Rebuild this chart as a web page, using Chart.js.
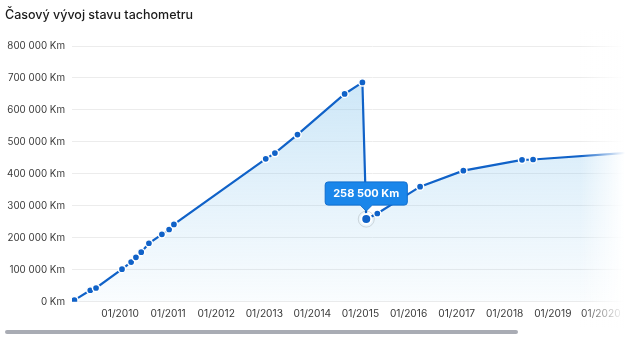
<!DOCTYPE html>
<html lang="cs">
<head>
<meta charset="utf-8">
<title>Časový vývoj stavu tachometru</title>
<script src="https://cdn.jsdelivr.net/npm/chart.js@4.4.1/dist/chart.umd.min.js"></script>
<style>
  html, body { margin: 0; padding: 0; background: #fff; }
  body { width: 630px; height: 339px; overflow: hidden; position: relative; font-family: Inter, "Noto Sans", sans-serif; }
  .scroller { position: absolute; left: 0; top: 0; width: 630px; height: 328px; overflow: hidden; }
  .wrap { position: absolute; left: 0; top: 0; width: 690px; height: 326px; }
  .fade { position: absolute; left: 580px; top: 30px; width: 50px; height: 298px;
          background: linear-gradient(to right, rgba(255,255,255,0), #fff 90%); pointer-events: none; }
  .bar { position: absolute; left: 5px; top: 330px; width: 513px; height: 4px; border-radius: 2px; background: #a9acb4; }
</style>
</head>
<body>
<div class="scroller">
  <div class="wrap"><canvas id="chart"></canvas></div>
  <div class="fade"></div>
</div>
<div class="bar"></div>
<script>
// odečty tachometru (rok jako desetinné číslo, km)
const dates = [2009.05, 2009.38, 2009.50, 2010.04, 2010.23, 2010.33, 2010.44, 2010.60, 2010.87, 2011.02, 2011.12,
  2013.03, 2013.22, 2013.69, 2014.67, 2015.04, 2015.12, 2015.35, 2016.24, 2017.14, 2018.36, 2018.59, 2021.2];
const km = [5000, 36000, 43000, 102000, 124000, 139000, 155000, 183000, 211000, 226000, 242000,
  447000, 465000, 523000, 650000, 686000, 258500, 276000, 360000, 410000, 444000, 445000, 473000];
const xYears = [2010, 2011, 2012, 2013, 2014, 2015, 2016, 2017, 2018, 2019, 2020, 2021];
const yTicks = [0, 100000, 200000, 300000, 400000, 500000, 600000, 700000, 800000];
const unit = "Km";
const activeIndex = 16;

const lineColor = "rgb(16,98,200)";

function fmt(v) {
  return String(v).replace(/\B(?=(\d{3})+(?!\d))/g, " ") + " " + unit;
}

const ctx = document.getElementById("chart").getContext("2d");

const hoverRing = {
  id: "hoverRing",
  afterDatasetsDraw(chart) {
    const c = chart.ctx;
    chart.getActiveElements().forEach(a => {
      const el = chart.getDatasetMeta(a.datasetIndex).data[a.index];
      c.save();
      c.beginPath();
      c.arc(el.x, el.y, 8, 0, Math.PI * 2);
      c.strokeStyle = "rgba(0,0,0,0.13)";
      c.lineWidth = 1;
      c.stroke();
      c.restore();
    });
  }
};

const chart = new Chart(ctx, {
  type: "line",
  data: {
    datasets: [{
      data: dates.map((d, i) => ({ x: d, y: km[i] })),
      borderColor: lineColor,
      borderWidth: 2.2,
      tension: 0,
      fill: "origin",
      backgroundColor: (c) => {
        const area = c.chart.chartArea;
        if (!area) return "rgba(120,190,235,0.2)";
        const g = c.chart.ctx.createLinearGradient(0, area.top, 0, area.bottom);
        g.addColorStop(0, "rgba(120,190,235,0.42)");
        g.addColorStop(1, "rgba(120,190,235,0.04)");
        return g;
      },
      pointRadius: 3.6,
      pointBackgroundColor: lineColor,
      pointBorderColor: "#fff",
      pointBorderWidth: 1.5,
      pointHoverRadius: 5,
      pointHoverBackgroundColor: lineColor,
      pointHoverBorderColor: "#fff",
      pointHoverBorderWidth: 2
    }]
  },
  options: {
    responsive: true,
    maintainAspectRatio: false,
    animation: false,
    events: [],
    layout: { padding: { left: 5, top: 4, right: 17, bottom: 0 } },
    plugins: {
      legend: { display: false },
      title: {
        display: true,
        text: "Časový vývoj stavu tachometru",
        align: "start",
        color: "#1b1b1b",
        font: { family: "Inter", size: 12.5, weight: "500" },
        padding: { top: 4, bottom: 23 }
      },
      tooltip: {
        enabled: true,
        displayColors: false,
        backgroundColor: "rgb(26,134,234)",
        borderColor: "rgb(14,108,206)",
        borderWidth: 1,
        cornerRadius: 3,
        caretSize: 6,
        caretPadding: 8,
        yAlign: "bottom",
        xAlign: "center",
        padding: { left: 8, right: 8, top: 5, bottom: 5 },
        bodyFont: { family: "Inter", size: 11, weight: "bold" },
        bodyColor: "#fff",
        callbacks: {
          title: () => "",
          label: (it) => fmt(it.parsed.y)
        }
      }
    },
    scales: {
      x: {
        type: "linear",
        min: 2009,
        max: 2021.5,
        afterBuildTicks: (s) => { s.ticks = xYears.map(v => ({ value: v })); },
        grid: { display: false, drawTicks: false },
        border: { display: false },
        ticks: {
          color: "#3a3a3a",
          font: { family: "Inter", size: 10.2 },
          padding: 6,
          maxRotation: 0,
          autoSkip: false,
          callback: (v) => "01/" + v
        }
      },
      y: {
        min: 0,
        max: 800000,
        afterBuildTicks: (s) => { s.ticks = yTicks.map(v => ({ value: v })); },
        afterFit: (s) => { s.width = 67; },
        grid: { color: "#ececec", drawTicks: false },
        border: { display: false },
        ticks: {
          color: "#3a3a3a",
          font: { family: "Inter", size: 9.8 },
          padding: 7,
          callback: (v) => fmt(v)
        }
      }
    }
  },
  plugins: [hoverRing]
});

const el = chart.getDatasetMeta(0).data[activeIndex];
chart.setActiveElements([{ datasetIndex: 0, index: activeIndex }]);
chart.tooltip.setActiveElements([{ datasetIndex: 0, index: activeIndex }], { x: el.x, y: el.y });
chart.update();
</script>
</body>
</html>
